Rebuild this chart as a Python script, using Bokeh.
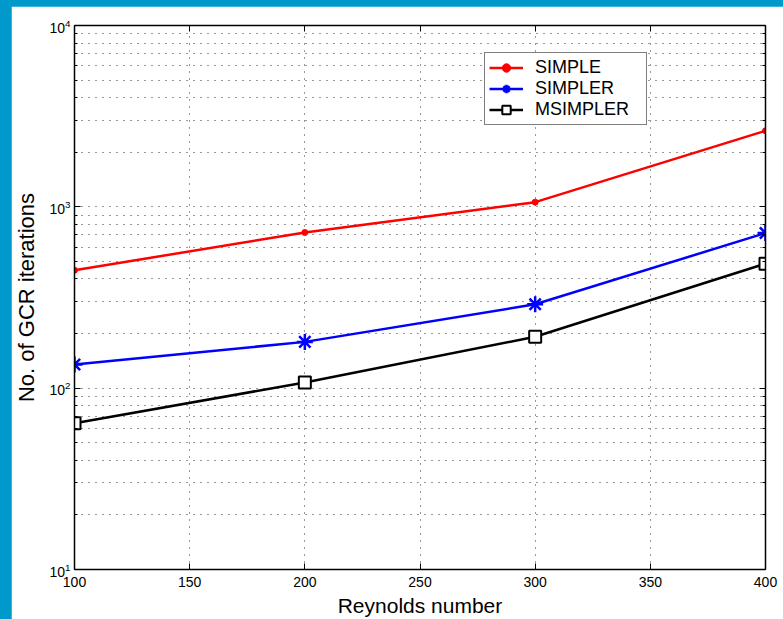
from bokeh.plotting import figure
from bokeh.models import FixedTicker, LinearAxis, LogAxis, CustomJSTickFormatter, Spacer
from bokeh.layouts import column, row
from bokeh.embed import file_html
from bokeh.resources import INLINE

# ---- data ----
reynolds = [100, 200, 300, 400]
simple = [447, 722, 1061, 2626]
simpler = [135, 180, 290, 717]
msimpler = [64, 107.5, 192, 486]

x_ticks = [100, 150, 200, 250, 300, 350, 400]
y_ticks = [10, 100, 1000, 10000]
y_minor = [k * 10 ** d for d in (1, 2, 3) for k in range(2, 10)]

FONT = "Liberation Sans"
EDGE = "#0099cc"

p = figure(width=772, height=613, x_range=(100, 400), y_range=(10, 10000),
           y_axis_type="log", output_backend="svg", toolbar_location=None,
           min_border_left=62, min_border_right=18, min_border_top=19,
           min_border_bottom=42)

p.background_fill_color = "white"
p.border_fill_color = "white"
p.outline_line_color = "black"
p.outline_line_width = 1

# axes
p.xaxis.ticker = FixedTicker(ticks=x_ticks, minor_ticks=[])
p.yaxis.ticker = FixedTicker(ticks=y_ticks, minor_ticks=y_minor)
for ax in (p.xaxis[0], p.yaxis[0]):
    ax.major_tick_in = 6
    ax.major_tick_out = 0
    ax.minor_tick_in = 3
    ax.minor_tick_out = 0
    ax.axis_line_color = "black"
    ax.axis_line_width = 1.5
    ax.major_tick_line_color = "black"
    ax.minor_tick_line_color = "black"
    ax.major_label_text_font = FONT
    ax.major_label_text_font_size = "14px"
    ax.major_label_text_color = "black"
    ax.axis_label_text_font = FONT
    ax.axis_label_text_font_style = "normal"
    ax.axis_label_text_color = "black"

p.xaxis.axis_label = "Reynolds number"
p.yaxis.axis_label = "No. of GCR iterations"
p.xaxis.axis_label_text_font_size = "21px"
p.yaxis.axis_label_text_font_size = "22px"
p.xaxis.major_label_standoff = 7
p.yaxis.major_label_standoff = 4
p.xaxis.axis_label_standoff = 4
p.yaxis.axis_label_standoff = 7

blank = CustomJSTickFormatter(code="return ''")
top = LinearAxis(ticker=FixedTicker(ticks=x_ticks, minor_ticks=[]), formatter=blank,
                 major_tick_in=6, major_tick_out=0,
                 axis_line_color="black", axis_line_width=1.5, major_label_standoff=0)
p.add_layout(top, "above")
right = LogAxis(ticker=FixedTicker(ticks=y_ticks, minor_ticks=y_minor), formatter=blank,
                major_tick_in=6, major_tick_out=0, minor_tick_in=3, minor_tick_out=0,
                axis_line_color="black", axis_line_width=1.5, major_label_standoff=0)
p.add_layout(right, "right")

# grid
p.xgrid.ticker = FixedTicker(ticks=x_ticks, minor_ticks=[])
for g in (p.xgrid[0], p.ygrid[0]):
    g.grid_line_color = "#333333"
    g.grid_line_dash = "1 6"
    g.grid_line_width = 1
p.ygrid.minor_grid_line_color = "#333333"
p.ygrid.minor_grid_line_dash = "1 6"
p.ygrid.minor_grid_line_width = 1

# series
p.line(reynolds, simple, line_color="#ff0000", line_width=2.5, legend_label="SIMPLE")
p.scatter(reynolds, simple, marker="circle", size=6, line_color="#ff0000",
          fill_color="#ff0000", legend_label="SIMPLE")
p.line(reynolds, simpler, line_color="#0000ff", line_width=2.5, legend_label="SIMPLER")
p.scatter(reynolds, simpler, marker="asterisk", size=16, line_color="#0000ff",
          line_width=2.5, legend_label="SIMPLER")
p.line(reynolds, msimpler, line_color="black", line_width=2.5, legend_label="MSIMPLER")
p.scatter(reynolds, msimpler, marker="square", size=12, line_color="black",
          fill_color="white", line_width=2, legend_label="MSIMPLER")

# legend
lg = p.legend[0]
lg.location = (410, 444)
lg.border_line_color = "black"
lg.border_line_width = 1
lg.background_fill_color = "white"
lg.background_fill_alpha = 1
lg.label_text_font = FONT
lg.label_text_font_size = "18px"
lg.label_text_color = "black"
lg.glyph_width = 34
lg.glyph_height = 21
lg.label_height = 21
lg.label_width = 107
lg.label_standoff = 12
lg.spacing = 0
lg.padding = 4
lg.margin = 0

page = column(Spacer(width=783, height=6),
              row(Spacer(width=11, height=613), p),
              styles={"background-color": EDGE})

open("out.html", "w").write(file_html(page, INLINE))
